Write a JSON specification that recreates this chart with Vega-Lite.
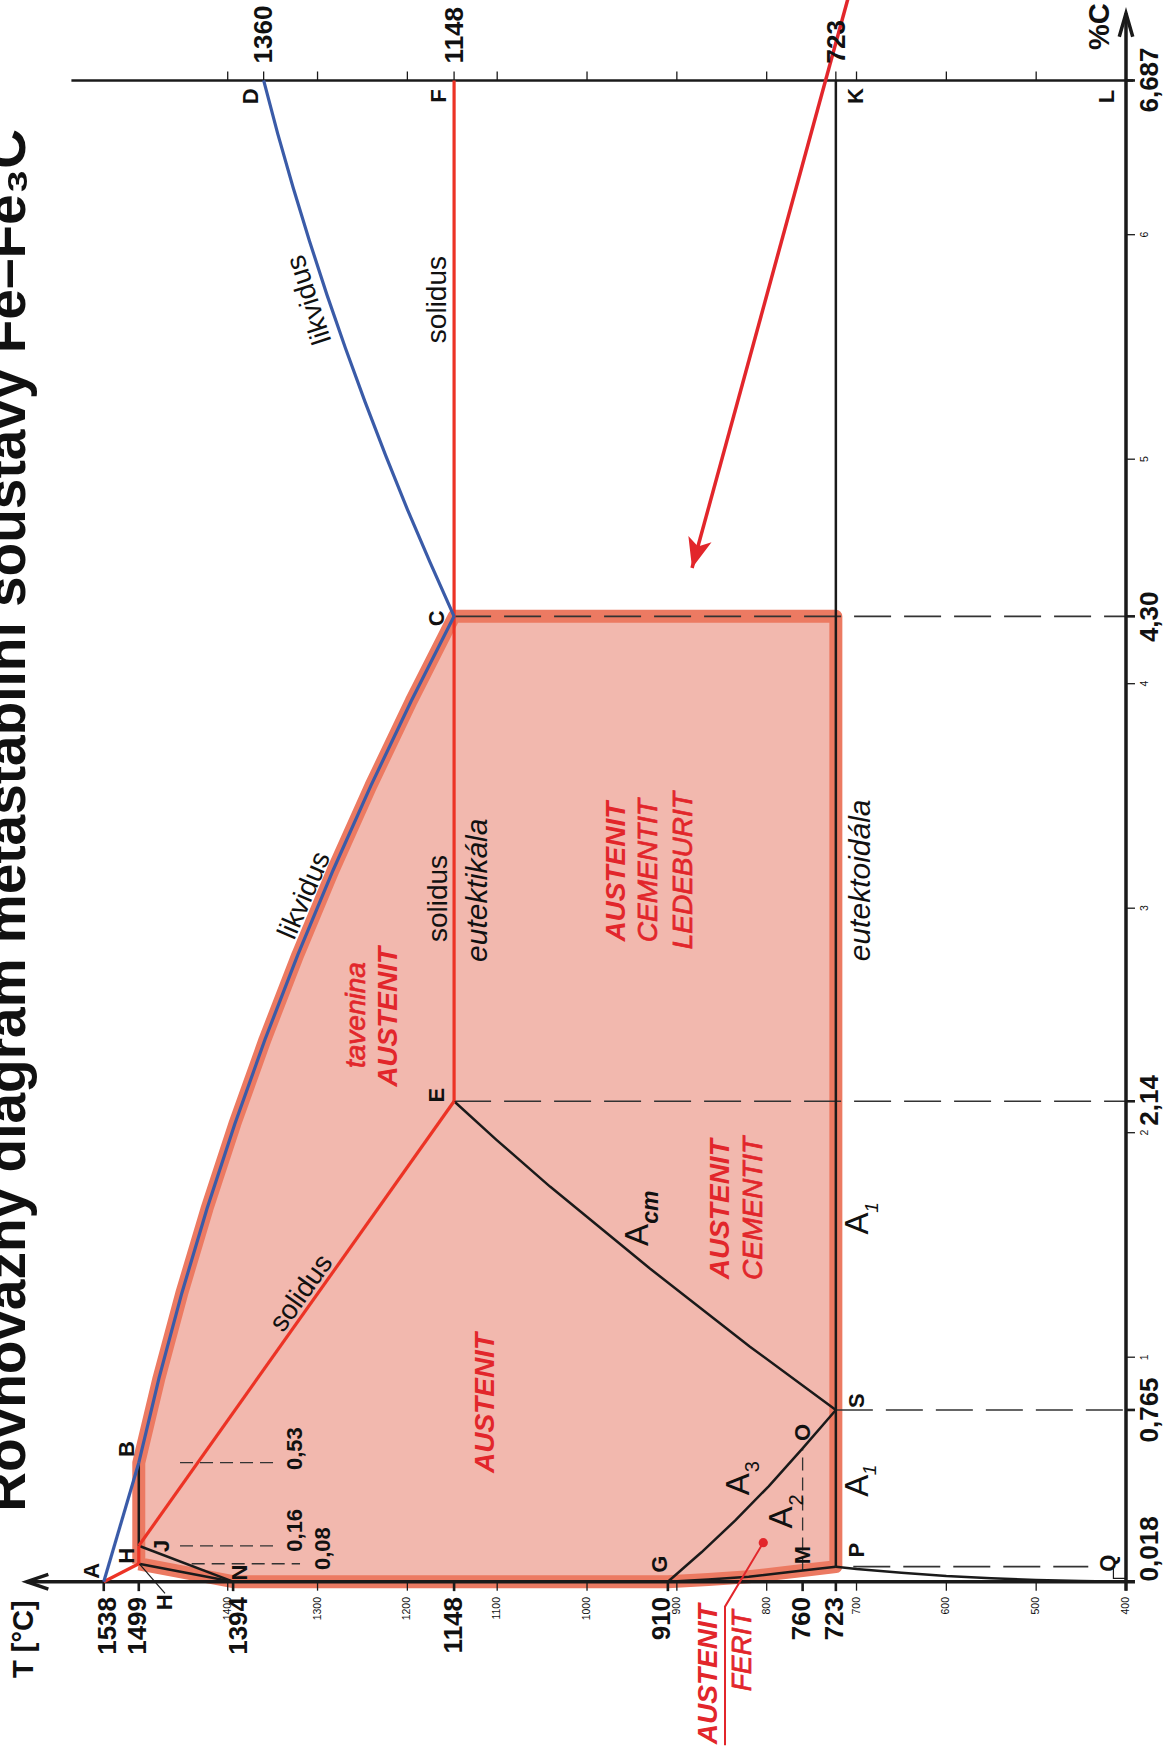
{
"$schema": "https://vega.github.io/schema/vega-lite/v6.json",
"width": 1166, "height": 1753, "autosize": {"type": "none"}, "padding": 0,
"config": {"view": {"stroke": null}},
"datasets": {
"region": [
{"i":0,"T":1499,"C":0.08},{"i":1,"T":1499,"C":0.53},{"i":2,"T":1476.5,"C":0.907},{"i":3,"T":1451.2,"C":1.284},{"i":4,"T":1423.1,"C":1.661},{"i":5,"T":1392.2,"C":2.038},{"i":6,"T":1358.5,"C":2.415},{"i":7,"T":1322,"C":2.792},{"i":8,"T":1282.7,"C":3.169},{"i":9,"T":1240.6,"C":3.546},{"i":10,"T":1195.7,"C":3.923},{"i":11,"T":1148,"C":4.3},{"i":12,"T":723,"C":4.3},{"i":13,"T":723,"C":0.067},{"i":14,"T":760,"C":0.05},{"i":15,"T":820,"C":0.022},{"i":16,"T":865,"C":0.01},{"i":17,"T":910,"C":0},{"i":18,"T":1394,"C":0},{"i":19,"T":1499,"C":0.08}],
"blue": [
{"g":"AB","i":0,"T":1538,"C":0},{"g":"AB","i":1,"T":1499,"C":0.53},
{"g":"BC","i":0,"T":1499,"C":0.53},{"g":"BC","i":1,"T":1476.5,"C":0.907},{"g":"BC","i":2,"T":1451.2,"C":1.284},{"g":"BC","i":3,"T":1423.1,"C":1.661},{"g":"BC","i":4,"T":1392.2,"C":2.038},{"g":"BC","i":5,"T":1358.5,"C":2.415},{"g":"BC","i":6,"T":1322,"C":2.792},{"g":"BC","i":7,"T":1282.7,"C":3.169},{"g":"BC","i":8,"T":1240.6,"C":3.546},{"g":"BC","i":9,"T":1195.7,"C":3.923},{"g":"BC","i":10,"T":1148,"C":4.3},
{"g":"CD","i":0,"T":1148,"C":4.3},{"g":"CD","i":1,"T":1174.6,"C":4.539},{"g":"CD","i":2,"T":1200,"C":4.777},{"g":"CD","i":3,"T":1224.1,"C":5.016},{"g":"CD","i":4,"T":1247.1,"C":5.255},{"g":"CD","i":5,"T":1268.9,"C":5.494},{"g":"CD","i":6,"T":1289.5,"C":5.732},{"g":"CD","i":7,"T":1308.9,"C":5.971},{"g":"CD","i":8,"T":1327.2,"C":6.21},{"g":"CD","i":9,"T":1344.2,"C":6.448},{"g":"CD","i":10,"T":1360,"C":6.687}],
"red": [
{"g":"AH","i":0,"T":1538,"C":0},{"g":"AH","i":1,"T":1499,"C":0.08},
{"g":"HJ","i":0,"T":1499,"C":0.08},{"g":"HJ","i":1,"T":1499,"C":0.16},
{"g":"JE","i":0,"T":1499,"C":0.16},{"g":"JE","i":1,"T":1148,"C":2.14},
{"g":"EF","i":0,"T":1148,"C":2.14},{"g":"EF","i":1,"T":1148,"C":6.687}],
"black": [
{"g":"JB","i":0,"T":1499,"C":0.16},{"g":"JB","i":1,"T":1499,"C":0.53},
{"g":"HN","i":0,"T":1499,"C":0.08},{"g":"HN","i":1,"T":1394,"C":0},
{"g":"JN","i":0,"T":1499,"C":0.16},{"g":"JN","i":1,"T":1394,"C":0},
{"g":"GS","i":0,"T":910,"C":0},{"g":"GS","i":1,"T":872.6,"C":0.131},{"g":"GS","i":2,"T":835.2,"C":0.272},{"g":"GS","i":3,"T":797.8,"C":0.425},{"g":"GS","i":4,"T":760,"C":0.594},{"g":"GS","i":5,"T":723,"C":0.765},
{"g":"ES","i":0,"T":1148,"C":2.14},{"g":"ES","i":1,"T":1100.5,"C":1.967},{"g":"ES","i":2,"T":1041.2,"C":1.76},{"g":"ES","i":3,"T":930,"C":1.395},{"g":"ES","i":4,"T":818.6,"C":1.047},{"g":"ES","i":5,"T":723,"C":0.765},
{"g":"PK","i":0,"T":723,"C":0.067},{"g":"PK","i":1,"T":723,"C":6.687},
{"g":"GP","i":0,"T":910,"C":0},{"g":"GP","i":1,"T":865,"C":0.01},{"g":"GP","i":2,"T":820,"C":0.022},{"g":"GP","i":3,"T":760,"C":0.05},{"g":"GP","i":4,"T":723,"C":0.067},
{"g":"PQ","i":0,"T":723,"C":0.067},{"g":"PQ","i":1,"T":700,"C":0.057},{"g":"PQ","i":2,"T":650,"C":0.04},{"g":"PQ","i":3,"T":600,"C":0.025},{"g":"PQ","i":4,"T":550,"C":0.015},{"g":"PQ","i":5,"T":500,"C":0.008},{"g":"PQ","i":6,"T":450,"C":0.003},{"g":"PQ","i":7,"T":400,"C":0}],
"dashL": [
{"g":"c43","i":0,"T":1148,"C":4.3},{"g":"c43","i":1,"T":400,"C":4.3},
{"g":"e214","i":0,"T":1148,"C":2.14},{"g":"e214","i":1,"T":400,"C":2.14},
{"g":"s765","i":0,"T":723,"C":0.765},{"g":"s765","i":1,"T":400,"C":0.765},
{"g":"p","i":0,"T":703.6,"C":0.067},{"g":"p","i":1,"T":442,"C":0.067}],
"dashS": [
{"g":"b","i":0,"T":1453.1,"C":0.53},{"g":"b","i":1,"T":1341.8,"C":0.53},
{"g":"j","i":0,"T":1453.1,"C":0.16},{"g":"j","i":1,"T":1341.8,"C":0.16},
{"g":"h","i":0,"T":1440.1,"C":0.08},{"g":"h","i":1,"T":1319.5,"C":0.08},
{"g":"mo","i":0,"T":760,"C":0.05},{"g":"mo","i":1,"T":760,"C":0.594}],
"thin": [
{"g":"hl","i":0,"T":1497.6,"C":0.076},{"g":"hl","i":1,"T":1469.8,"C":-0.052},
{"g":"q","i":0,"T":414,"C":0.067},{"g":"q","i":1,"T":414,"C":0.015},{"g":"q","i":2,"T":399,"C":0.015}],
"axisThick": [
{"g":"b","i":0,"T":390,"C":0},{"g":"b","i":1,"T":1623.8,"C":0},
{"g":"r","i":0,"T":400,"C":-0.04},{"g":"r","i":1,"T":400,"C":6.986},
{"g":"aT","i":0,"T":1599.7,"C":0.033},{"g":"aT","i":1,"T":1623.8,"C":0},{"g":"aT","i":2,"T":1599.7,"C":-0.033},
{"g":"aC","i":0,"T":407.5,"C":6.882},{"g":"aC","i":1,"T":400,"C":6.986},{"g":"aC","i":2,"T":392.5,"C":6.882}],
"axisThin": [{"g":"t","i":0,"T":1574,"C":6.687},{"g":"t","i":1,"T":392,"C":6.687}],
"pointer": [{"g":"p","i":0,"T":803.8,"C":0.174},{"g":"p","i":1,"T":846.4,"C":-0.111},{"g":"p","i":2,"T":846.4,"C":-0.729}],
"arrow": [{"g":"a","i":0,"T":708.4,"C":7.068},{"g":"a","i":1,"T":883.1,"C":4.515}],
"arrowHead": [{"T":883.1,"C":4.515}],
"dot": [{"T":803.8,"C":0.174}],
"ticksB": [{"T":400},{"T":500},{"T":600},{"T":700},{"T":800},{"T":900},{"T":1000},{"T":1100},{"T":1200},{"T":1300},{"T":1400}],
"ticksBS": [{"T":1538},{"T":1499},{"T":1394},{"T":1148},{"T":910},{"T":760},{"T":723}],
"ticksT": [{"T":500},{"T":600},{"T":700},{"T":723},{"T":800},{"T":900},{"T":1000},{"T":1100},{"T":1148},{"T":1200},{"T":1300},{"T":1360},{"T":1400}],
"ticksR": [{"C":1},{"C":2},{"C":3},{"C":4},{"C":5},{"C":6}],
"ticksRS": [{"C":0.765},{"C":2.14},{"C":4.3},{"C":6.687}],
"title": [{"T":1625.7,"C":0.312,"s":"Rovnovážný diagram metastabilní soustavy Fe–Fe₃C"}],
"bottomBig": [{"T":1532.9,"C":-0.068,"s":"1538"},{"T":1499.5,"C":-0.068,"s":"1499"},{"T":1387.4,"C":-0.068,"s":"1394"},{"T":1148.1,"C":-0.068,"s":"1148"},{"T":916.9,"C":-0.068,"s":"910"},{"T":761,"C":-0.068,"s":"760"},{"T":724,"C":-0.068,"s":"723"}],
"bottomSmall": [{"T":400,"C":-0.068,"s":"400"},{"T":500,"C":-0.068,"s":"500"},{"T":600,"C":-0.068,"s":"600"},{"T":700,"C":-0.068,"s":"700"},{"T":800,"C":-0.068,"s":"800"},{"T":900,"C":-0.068,"s":"900"},{"T":1000,"C":-0.068,"s":"1000"},{"T":1100,"C":-0.068,"s":"1100"},{"T":1200,"C":-0.068,"s":"1200"},{"T":1300,"C":-0.068,"s":"1300"},{"T":1400,"C":-0.068,"s":"1400"}],
"topBig": [{"T":1359.6,"C":6.763,"s":"1360"},{"T":1147.5,"C":6.763,"s":"1148"},{"T":721.8,"C":6.763,"s":"723"}],
"rightBig": [{"T":373.3,"C":0.146,"s":"0,018"},{"T":373.3,"C":0.765,"s":"0,765"},{"T":373.3,"C":2.144,"s":"2,14"},{"T":373.3,"C":4.298,"s":"4,30"},{"T":373.3,"C":6.689,"s":"6,687"}],
"rightSmall": [{"T":378.8,"C":1,"s":"1"},{"T":378.8,"C":2,"s":"2"},{"T":378.8,"C":3,"s":"3"},{"T":378.8,"C":4,"s":"4"},{"T":378.8,"C":5,"s":"5"},{"T":378.8,"C":6,"s":"6"}],
"letters": [{"T":1551.4,"C":0.048,"s":"A"},{"T":1512.4,"C":0.591,"s":"B"},{"T":1512.4,"C":0.115,"s":"H"},{"T":1472.6,"C":0.16,"s":"J"},{"T":1386.3,"C":0.041,"s":"N"},{"T":1469.8,"C":-0.092,"s":"H"},{"T":918.8,"C":0.078,"s":"G"},{"T":759.9,"C":0.119,"s":"M"},{"T":699.8,"C":0.141,"s":"P"},{"T":699.8,"C":0.806,"s":"S"},{"T":759.9,"C":0.665,"s":"O"},{"T":420,"C":0.082,"s":"Q"},{"T":1167.3,"C":4.291,"s":"C"},{"T":1167.3,"C":2.167,"s":"E"},{"T":1373.6,"C":6.616,"s":"D"},{"T":1164.3,"C":6.618,"s":"F"},{"T":700.1,"C":6.618,"s":"K"},{"T":420.6,"C":6.615,"s":"L"}],
"axisTitles": [{"T":1626.8,"C":-0.256,"s":"T [°C]"},{"T":428.4,"C":6.927,"s":"%C"}],
"comp": [{"T":1325.1,"C":0.4976,"s":"0,53"},{"T":1325.1,"C":0.1336,"s":"0,16"},{"T":1294.3,"C":0.052,"s":"0,08"}],
"redBold": [{"T":1220.2,"C":2.516,"s":"AUSTENIT"},{"T":1112.1,"C":0.796,"s":"AUSTENIT"},{"T":851.1,"C":1.659,"s":"AUSTENIT"},{"T":967,"C":3.163,"s":"AUSTENIT"},{"T":864,"C":-0.412,"s":"AUSTENIT"}],
"redItal": [{"T":1256.4,"C":2.524,"s":"tavenina"},{"T":813.9,"C":1.663,"s":"CEMENTIT"},{"T":930.8,"C":3.167,"s":"CEMENTIT"},{"T":891.8,"C":3.167,"s":"LEDEBURIT"},{"T":826.9,"C":-0.308,"s":"FERIT"}],
"solidusV": [{"T":1165.7,"C":5.711,"s":"solidus"},{"T":1164.6,"C":3.043,"s":"solidus"}],
"solidusD": [{"T":1317.5,"C":1.284,"s":"solidus"}],
"likvLow": [{"T":1313.9,"C":3.056,"s":"likvidus"}],
"likvUp": [{"T":1308.7,"C":5.711,"s":"likvidus"}],
"blackItal": [{"T":1121,"C":3.08,"s":"eutektikála"},{"T":695.2,"C":3.124,"s":"eutektoidála"}],
"bigA": [{"T":942.9,"C":1.544,"s":"A"},{"T":830.6,"C":0.434,"s":"A"},{"T":782.4,"C":0.286,"s":"A"},{"T":698.9,"C":0.427,"s":"A"},{"T":698,"C":1.596,"s":"A"}],
"subReg": [{"T":814.9,"C":0.512,"s":"3"},{"T":765.7,"C":0.364,"s":"2"}],
"subItal": [{"T":685,"C":0.498,"s":"1"},{"T":683.1,"C":1.667,"s":"1"}],
"subCm": [{"T":929.1,"C":1.668,"s":"cm"}]
},
"layer": [
{"data":{"name":"region"},"mark":{"type":"line","fill":"#F2B8AE","stroke":"#EC7A62","strokeWidth":13,"strokeJoin":"round"},
 "encoding":{"x":{"field":"T","type":"quantitative","scale":{"domain":[355.47,1653.5],"reverse":true,"nice":false,"zero":false},"axis":null},"y":{"field":"C","type":"quantitative","scale":{"domain":[-0.763,7.0454],"nice":false,"zero":false},"axis":null},"order":{"field":"i"}}},
{"data":{"name":"dashL"},"mark":{"type":"line","stroke":"#333333","strokeWidth":1.6,"strokeDash":[37,13]},
 "encoding":{"x":{"field":"T","type":"quantitative","scale":{"domain":[355.47,1653.5],"reverse":true,"nice":false,"zero":false},"axis":null},"y":{"field":"C","type":"quantitative","scale":{"domain":[-0.763,7.0454],"nice":false,"zero":false},"axis":null},"detail":{"field":"g"},"order":{"field":"i"}}},
{"data":{"name":"dashS"},"mark":{"type":"line","stroke":"#333333","strokeWidth":1.3,"strokeDash":[13,7]},
 "encoding":{"x":{"field":"T","type":"quantitative","scale":{"domain":[355.47,1653.5],"reverse":true,"nice":false,"zero":false},"axis":null},"y":{"field":"C","type":"quantitative","scale":{"domain":[-0.763,7.0454],"nice":false,"zero":false},"axis":null},"detail":{"field":"g"},"order":{"field":"i"}}},
{"data":{"name":"thin"},"mark":{"type":"line","stroke":"#1a1a1a","strokeWidth":1.2},
 "encoding":{"x":{"field":"T","type":"quantitative","scale":{"domain":[355.47,1653.5],"reverse":true,"nice":false,"zero":false},"axis":null},"y":{"field":"C","type":"quantitative","scale":{"domain":[-0.763,7.0454],"nice":false,"zero":false},"axis":null},"detail":{"field":"g"},"order":{"field":"i"}}},
{"data":{"name":"ticksB"},"mark":{"type":"rule","stroke":"#1a1a1a","strokeWidth":1.3},
 "encoding":{"x":{"field":"T","type":"quantitative","scale":{"domain":[355.47,1653.5],"reverse":true,"nice":false,"zero":false},"axis":null},"y":{"datum":0,"type":"quantitative","scale":{"domain":[-0.763,7.0454],"nice":false,"zero":false},"axis":null},"y2":{"datum":-0.04}}},
{"data":{"name":"ticksBS"},"mark":{"type":"rule","stroke":"#1a1a1a","strokeWidth":2.6},
 "encoding":{"x":{"field":"T","type":"quantitative","scale":{"domain":[355.47,1653.5],"reverse":true,"nice":false,"zero":false},"axis":null},"y":{"datum":0,"type":"quantitative","scale":{"domain":[-0.763,7.0454],"nice":false,"zero":false},"axis":null},"y2":{"datum":-0.042}}},
{"data":{"name":"ticksT"},"mark":{"type":"rule","stroke":"#1a1a1a","strokeWidth":1.3},
 "encoding":{"x":{"field":"T","type":"quantitative","scale":{"domain":[355.47,1653.5],"reverse":true,"nice":false,"zero":false},"axis":null},"y":{"datum":6.687,"type":"quantitative","scale":{"domain":[-0.763,7.0454],"nice":false,"zero":false},"axis":null},"y2":{"datum":6.727}}},
{"data":{"name":"ticksR"},"mark":{"type":"rule","stroke":"#1a1a1a","strokeWidth":1.3},
 "encoding":{"y":{"field":"C","type":"quantitative","scale":{"domain":[-0.763,7.0454],"nice":false,"zero":false},"axis":null},"x":{"datum":400,"type":"quantitative","scale":{"domain":[355.47,1653.5],"reverse":true,"nice":false,"zero":false},"axis":null},"x2":{"datum":390}}},
{"data":{"name":"ticksRS"},"mark":{"type":"rule","stroke":"#1a1a1a","strokeWidth":2.6},
 "encoding":{"y":{"field":"C","type":"quantitative","scale":{"domain":[-0.763,7.0454],"nice":false,"zero":false},"axis":null},"x":{"datum":400,"type":"quantitative","scale":{"domain":[355.47,1653.5],"reverse":true,"nice":false,"zero":false},"axis":null},"x2":{"datum":390}}},
{"data":{"name":"axisThin"},"mark":{"type":"line","stroke":"#1a1a1a","strokeWidth":2.6},
 "encoding":{"x":{"field":"T","type":"quantitative","scale":{"domain":[355.47,1653.5],"reverse":true,"nice":false,"zero":false},"axis":null},"y":{"field":"C","type":"quantitative","scale":{"domain":[-0.763,7.0454],"nice":false,"zero":false},"axis":null},"detail":{"field":"g"},"order":{"field":"i"}}},
{"data":{"name":"black"},"mark":{"type":"line","stroke":"#1a1a1a","strokeWidth":2.5,"strokeJoin":"round"},
 "encoding":{"x":{"field":"T","type":"quantitative","scale":{"domain":[355.47,1653.5],"reverse":true,"nice":false,"zero":false},"axis":null},"y":{"field":"C","type":"quantitative","scale":{"domain":[-0.763,7.0454],"nice":false,"zero":false},"axis":null},"detail":{"field":"g"},"order":{"field":"i"}}},
{"data":{"name":"axisThick"},"mark":{"type":"line","stroke":"#1a1a1a","strokeWidth":3.5,"strokeJoin":"miter"},
 "encoding":{"x":{"field":"T","type":"quantitative","scale":{"domain":[355.47,1653.5],"reverse":true,"nice":false,"zero":false},"axis":null},"y":{"field":"C","type":"quantitative","scale":{"domain":[-0.763,7.0454],"nice":false,"zero":false},"axis":null},"detail":{"field":"g"},"order":{"field":"i"}}},
{"data":{"name":"red"},"mark":{"type":"line","stroke":"#EC3325","strokeWidth":3.2},
 "encoding":{"x":{"field":"T","type":"quantitative","scale":{"domain":[355.47,1653.5],"reverse":true,"nice":false,"zero":false},"axis":null},"y":{"field":"C","type":"quantitative","scale":{"domain":[-0.763,7.0454],"nice":false,"zero":false},"axis":null},"detail":{"field":"g"},"order":{"field":"i"}}},
{"data":{"name":"blue"},"mark":{"type":"line","stroke":"#3A5BA8","strokeWidth":3.2},
 "encoding":{"x":{"field":"T","type":"quantitative","scale":{"domain":[355.47,1653.5],"reverse":true,"nice":false,"zero":false},"axis":null},"y":{"field":"C","type":"quantitative","scale":{"domain":[-0.763,7.0454],"nice":false,"zero":false},"axis":null},"detail":{"field":"g"},"order":{"field":"i"}}},
{"data":{"name":"pointer"},"mark":{"type":"line","stroke":"#E2262B","strokeWidth":2},
 "encoding":{"x":{"field":"T","type":"quantitative","scale":{"domain":[355.47,1653.5],"reverse":true,"nice":false,"zero":false},"axis":null},"y":{"field":"C","type":"quantitative","scale":{"domain":[-0.763,7.0454],"nice":false,"zero":false},"axis":null},"detail":{"field":"g"},"order":{"field":"i"}}},
{"data":{"name":"arrow"},"mark":{"type":"line","stroke":"#E2262B","strokeWidth":3.5},
 "encoding":{"x":{"field":"T","type":"quantitative","scale":{"domain":[355.47,1653.5],"reverse":true,"nice":false,"zero":false},"axis":null},"y":{"field":"C","type":"quantitative","scale":{"domain":[-0.763,7.0454],"nice":false,"zero":false},"axis":null},"detail":{"field":"g"},"order":{"field":"i"}}},
{"data":{"name":"arrowHead"},"mark":{"type":"point","shape":"M0,0L-1.6,-4L0,-3L1.6,-4Z","size":225,"angle":15.3,"filled":true,"fill":"#E2262B","stroke":null,"opacity":1},
 "encoding":{"x":{"field":"T","type":"quantitative","scale":{"domain":[355.47,1653.5],"reverse":true,"nice":false,"zero":false},"axis":null},"y":{"field":"C","type":"quantitative","scale":{"domain":[-0.763,7.0454],"nice":false,"zero":false},"axis":null}}},
{"data":{"name":"dot"},"mark":{"type":"point","shape":"circle","size":85,"filled":true,"fill":"#E2262B","opacity":1},
 "encoding":{"x":{"field":"T","type":"quantitative","scale":{"domain":[355.47,1653.5],"reverse":true,"nice":false,"zero":false},"axis":null},"y":{"field":"C","type":"quantitative","scale":{"domain":[-0.763,7.0454],"nice":false,"zero":false},"axis":null}}},
{"data":{"name":"title"},"mark":{"type":"text","angle":270,"align":"left","baseline":"alphabetic","font":"Liberation Sans","fontWeight":"bold","fontSize":55,"fill":"#111111"},
 "encoding":{"x":{"field":"T","type":"quantitative","scale":{"domain":[355.47,1653.5],"reverse":true,"nice":false,"zero":false},"axis":null},"y":{"field":"C","type":"quantitative","scale":{"domain":[-0.763,7.0454],"nice":false,"zero":false},"axis":null},"text":{"field":"s"}}},
{"data":{"name":"bottomBig"},"mark":{"type":"text","angle":270,"align":"right","baseline":"middle","font":"Liberation Sans","fontWeight":"bold","fontSize":26,"fill":"#111111"},
 "encoding":{"x":{"field":"T","type":"quantitative","scale":{"domain":[355.47,1653.5],"reverse":true,"nice":false,"zero":false},"axis":null},"y":{"field":"C","type":"quantitative","scale":{"domain":[-0.763,7.0454],"nice":false,"zero":false},"axis":null},"text":{"field":"s"}}},
{"data":{"name":"bottomSmall"},"mark":{"type":"text","angle":270,"align":"right","baseline":"middle","font":"Liberation Sans","fontSize":10.5,"fill":"#111111"},
 "encoding":{"x":{"field":"T","type":"quantitative","scale":{"domain":[355.47,1653.5],"reverse":true,"nice":false,"zero":false},"axis":null},"y":{"field":"C","type":"quantitative","scale":{"domain":[-0.763,7.0454],"nice":false,"zero":false},"axis":null},"text":{"field":"s"}}},
{"data":{"name":"topBig"},"mark":{"type":"text","angle":270,"align":"left","baseline":"middle","font":"Liberation Sans","fontWeight":"bold","fontSize":26,"fill":"#111111"},
 "encoding":{"x":{"field":"T","type":"quantitative","scale":{"domain":[355.47,1653.5],"reverse":true,"nice":false,"zero":false},"axis":null},"y":{"field":"C","type":"quantitative","scale":{"domain":[-0.763,7.0454],"nice":false,"zero":false},"axis":null},"text":{"field":"s"}}},
{"data":{"name":"rightBig"},"mark":{"type":"text","angle":270,"align":"center","baseline":"middle","font":"Liberation Sans","fontWeight":"bold","fontSize":26,"fill":"#111111"},
 "encoding":{"x":{"field":"T","type":"quantitative","scale":{"domain":[355.47,1653.5],"reverse":true,"nice":false,"zero":false},"axis":null},"y":{"field":"C","type":"quantitative","scale":{"domain":[-0.763,7.0454],"nice":false,"zero":false},"axis":null},"text":{"field":"s"}}},
{"data":{"name":"rightSmall"},"mark":{"type":"text","angle":270,"align":"center","baseline":"middle","font":"Liberation Sans","fontSize":10.5,"fill":"#111111"},
 "encoding":{"x":{"field":"T","type":"quantitative","scale":{"domain":[355.47,1653.5],"reverse":true,"nice":false,"zero":false},"axis":null},"y":{"field":"C","type":"quantitative","scale":{"domain":[-0.763,7.0454],"nice":false,"zero":false},"axis":null},"text":{"field":"s"}}},
{"data":{"name":"letters"},"mark":{"type":"text","angle":270,"align":"center","baseline":"middle","font":"Liberation Sans","fontWeight":"bold","fontSize":22,"fill":"#111111"},
 "encoding":{"x":{"field":"T","type":"quantitative","scale":{"domain":[355.47,1653.5],"reverse":true,"nice":false,"zero":false},"axis":null},"y":{"field":"C","type":"quantitative","scale":{"domain":[-0.763,7.0454],"nice":false,"zero":false},"axis":null},"text":{"field":"s"}}},
{"data":{"name":"axisTitles"},"mark":{"type":"text","angle":270,"align":"center","baseline":"middle","font":"Liberation Sans","fontWeight":"bold","fontSize":29,"fill":"#111111"},
 "encoding":{"x":{"field":"T","type":"quantitative","scale":{"domain":[355.47,1653.5],"reverse":true,"nice":false,"zero":false},"axis":null},"y":{"field":"C","type":"quantitative","scale":{"domain":[-0.763,7.0454],"nice":false,"zero":false},"axis":null},"text":{"field":"s"}}},
{"data":{"name":"comp"},"mark":{"type":"text","angle":270,"align":"left","baseline":"middle","font":"Liberation Sans","fontWeight":"bold","fontSize":22,"fill":"#111111"},
 "encoding":{"x":{"field":"T","type":"quantitative","scale":{"domain":[355.47,1653.5],"reverse":true,"nice":false,"zero":false},"axis":null},"y":{"field":"C","type":"quantitative","scale":{"domain":[-0.763,7.0454],"nice":false,"zero":false},"axis":null},"text":{"field":"s"}}},
{"data":{"name":"redBold"},"mark":{"type":"text","angle":270,"align":"center","baseline":"middle","font":"Liberation Sans","fontWeight":"bold","fontStyle":"italic","fontSize":28,"fill":"#E2262B"},
 "encoding":{"x":{"field":"T","type":"quantitative","scale":{"domain":[355.47,1653.5],"reverse":true,"nice":false,"zero":false},"axis":null},"y":{"field":"C","type":"quantitative","scale":{"domain":[-0.763,7.0454],"nice":false,"zero":false},"axis":null},"text":{"field":"s"}}},
{"data":{"name":"redItal"},"mark":{"type":"text","angle":270,"align":"center","baseline":"middle","font":"Liberation Sans","fontStyle":"italic","fontSize":28,"fill":"#E2262B","stroke":"#E2262B","strokeWidth":0.7},
 "encoding":{"x":{"field":"T","type":"quantitative","scale":{"domain":[355.47,1653.5],"reverse":true,"nice":false,"zero":false},"axis":null},"y":{"field":"C","type":"quantitative","scale":{"domain":[-0.763,7.0454],"nice":false,"zero":false},"axis":null},"text":{"field":"s"}}},
{"data":{"name":"solidusV"},"mark":{"type":"text","angle":270,"align":"center","baseline":"middle","font":"Liberation Sans","fontSize":28,"fill":"#111111"},
 "encoding":{"x":{"field":"T","type":"quantitative","scale":{"domain":[355.47,1653.5],"reverse":true,"nice":false,"zero":false},"axis":null},"y":{"field":"C","type":"quantitative","scale":{"domain":[-0.763,7.0454],"nice":false,"zero":false},"axis":null},"text":{"field":"s"}}},
{"data":{"name":"solidusD"},"mark":{"type":"text","angle":305.4,"align":"center","baseline":"middle","font":"Liberation Sans","fontSize":28,"fill":"#111111"},
 "encoding":{"x":{"field":"T","type":"quantitative","scale":{"domain":[355.47,1653.5],"reverse":true,"nice":false,"zero":false},"axis":null},"y":{"field":"C","type":"quantitative","scale":{"domain":[-0.763,7.0454],"nice":false,"zero":false},"axis":null},"text":{"field":"s"}}},
{"data":{"name":"likvLow"},"mark":{"type":"text","angle":293.5,"align":"center","baseline":"middle","font":"Liberation Sans","fontSize":28,"fill":"#111111"},
 "encoding":{"x":{"field":"T","type":"quantitative","scale":{"domain":[355.47,1653.5],"reverse":true,"nice":false,"zero":false},"axis":null},"y":{"field":"C","type":"quantitative","scale":{"domain":[-0.763,7.0454],"nice":false,"zero":false},"axis":null},"text":{"field":"s"}}},
{"data":{"name":"likvUp"},"mark":{"type":"text","angle":252,"align":"center","baseline":"middle","font":"Liberation Sans","fontSize":28,"fill":"#111111"},
 "encoding":{"x":{"field":"T","type":"quantitative","scale":{"domain":[355.47,1653.5],"reverse":true,"nice":false,"zero":false},"axis":null},"y":{"field":"C","type":"quantitative","scale":{"domain":[-0.763,7.0454],"nice":false,"zero":false},"axis":null},"text":{"field":"s"}}},
{"data":{"name":"blackItal"},"mark":{"type":"text","angle":270,"align":"center","baseline":"middle","font":"Liberation Sans","fontStyle":"italic","fontSize":30,"fill":"#111111"},
 "encoding":{"x":{"field":"T","type":"quantitative","scale":{"domain":[355.47,1653.5],"reverse":true,"nice":false,"zero":false},"axis":null},"y":{"field":"C","type":"quantitative","scale":{"domain":[-0.763,7.0454],"nice":false,"zero":false},"axis":null},"text":{"field":"s"}}},
{"data":{"name":"bigA"},"mark":{"type":"text","angle":270,"align":"center","baseline":"middle","font":"Liberation Sans","fontSize":33,"fill":"#111111"},
 "encoding":{"x":{"field":"T","type":"quantitative","scale":{"domain":[355.47,1653.5],"reverse":true,"nice":false,"zero":false},"axis":null},"y":{"field":"C","type":"quantitative","scale":{"domain":[-0.763,7.0454],"nice":false,"zero":false},"axis":null},"text":{"field":"s"}}},
{"data":{"name":"subReg"},"mark":{"type":"text","angle":270,"align":"center","baseline":"middle","font":"Liberation Sans","fontSize":20,"fill":"#111111"},
 "encoding":{"x":{"field":"T","type":"quantitative","scale":{"domain":[355.47,1653.5],"reverse":true,"nice":false,"zero":false},"axis":null},"y":{"field":"C","type":"quantitative","scale":{"domain":[-0.763,7.0454],"nice":false,"zero":false},"axis":null},"text":{"field":"s"}}},
{"data":{"name":"subItal"},"mark":{"type":"text","angle":270,"align":"center","baseline":"middle","font":"Liberation Sans","fontStyle":"italic","fontSize":19,"fill":"#111111"},
 "encoding":{"x":{"field":"T","type":"quantitative","scale":{"domain":[355.47,1653.5],"reverse":true,"nice":false,"zero":false},"axis":null},"y":{"field":"C","type":"quantitative","scale":{"domain":[-0.763,7.0454],"nice":false,"zero":false},"axis":null},"text":{"field":"s"}}},
{"data":{"name":"subCm"},"mark":{"type":"text","angle":270,"align":"center","baseline":"middle","font":"Liberation Sans","fontStyle":"italic","fontWeight":"bold","fontSize":23,"fill":"#111111"},
 "encoding":{"x":{"field":"T","type":"quantitative","scale":{"domain":[355.47,1653.5],"reverse":true,"nice":false,"zero":false},"axis":null},"y":{"field":"C","type":"quantitative","scale":{"domain":[-0.763,7.0454],"nice":false,"zero":false},"axis":null},"text":{"field":"s"}}}
]
}
